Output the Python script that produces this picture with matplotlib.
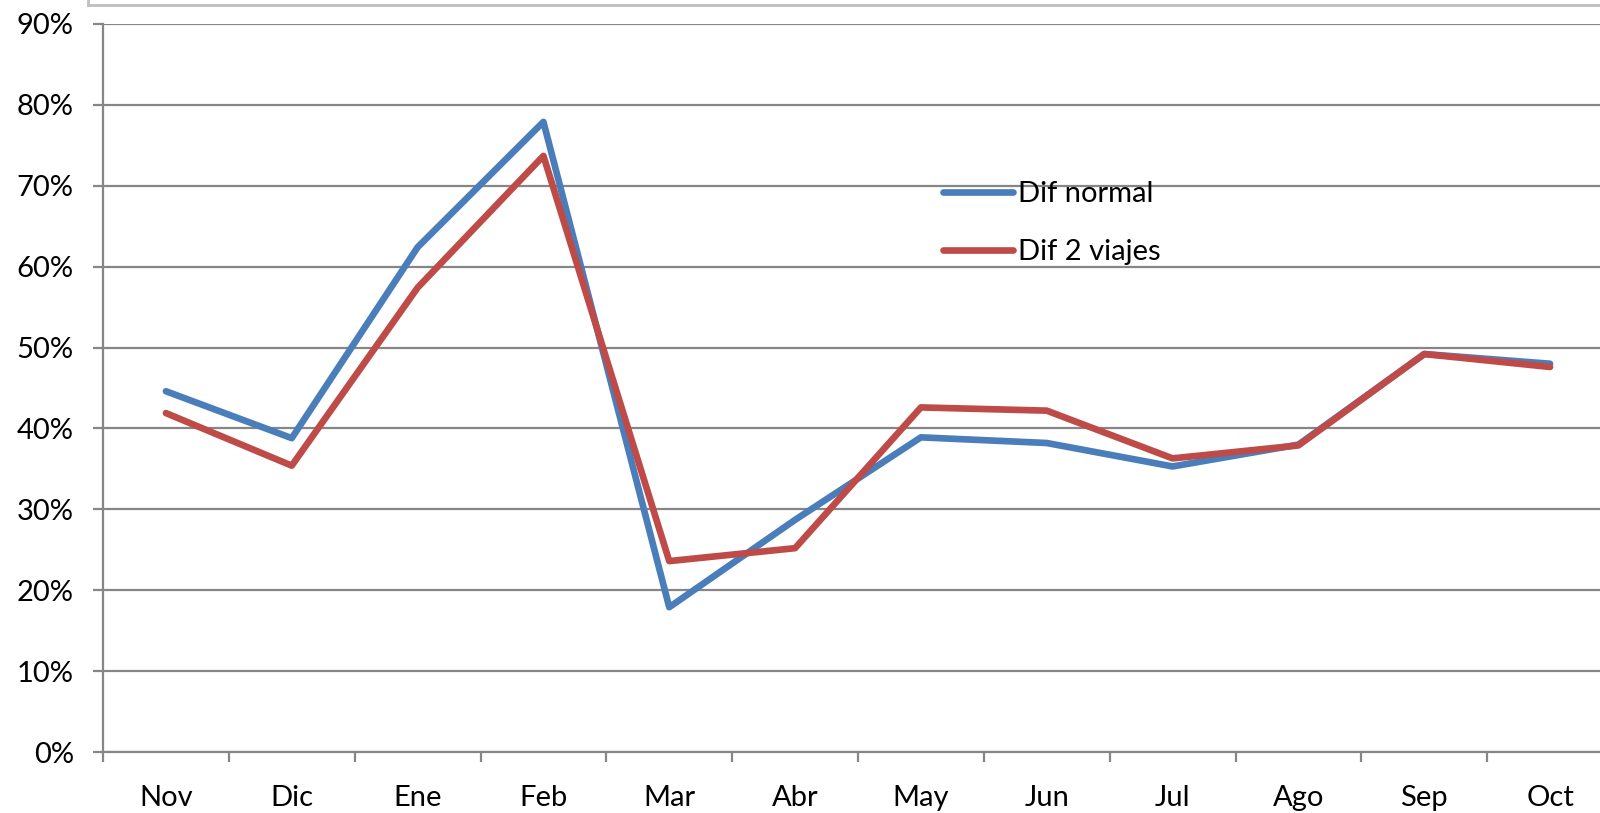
import matplotlib.pyplot as plt
import numpy as np
from matplotlib.lines import Line2D
from matplotlib.ticker import PercentFormatter, FixedLocator

plt.rcParams['font.family'] = ['Lato', 'DejaVu Sans']

months = ['Nov', 'Dic', 'Ene', 'Feb', 'Mar', 'Abr', 'May', 'Jun', 'Jul', 'Ago', 'Sep', 'Oct']
dif_normal = [44.6, 38.8, 62.4, 77.9, 17.9, 28.7, 38.9, 38.2, 35.3, 38.0, 49.2, 48.0]
dif_2_viajes = [41.9, 35.4, 57.4, 73.7, 23.6, 25.2, 42.6, 42.2, 36.3, 37.9, 49.2, 47.6]

grid_grey = '#868686'

fig = plt.figure(figsize=[16, 8.13], dpi=100)
# plot area runs a little past the right edge, like the cropped original
ax = fig.add_axes([103 / 1600, 61 / 813, 1510 / 1600, 728 / 813])

x = np.arange(len(months))
ax.plot(x, dif_normal, color='#4A7EBB', lw=4.8, label='Dif normal', solid_capstyle='round', zorder=3)
ax.plot(x, dif_2_viajes, color='#BE4B48', lw=4.8, label='Dif 2 viajes', solid_capstyle='round', zorder=4)

ax.set_xlim(-0.5, len(months) - 0.5)
ax.set_ylim(0, 90)
ax.set_yticks(np.arange(0, 91, 10))
ax.yaxis.set_major_formatter(PercentFormatter(decimals=0))
ax.yaxis.grid(True, color=grid_grey, lw=1.6)
ax.set_axisbelow(True)

# category boundaries get the tick marks, labels sit in between
ax.xaxis.set_major_locator(FixedLocator(np.arange(-0.5, len(months), 1)))
ax.xaxis.set_minor_locator(FixedLocator(x))
ax.set_xticklabels([], minor=False)
ax.set_xticklabels(months, minor=True)
ax.tick_params(axis='x', which='major', length=7, width=1.6, color=grid_grey)
ax.tick_params(axis='x', which='minor', length=0, pad=24, labelsize=21)
ax.tick_params(axis='y', length=7, width=1.6, color=grid_grey, pad=14, labelsize=21)

for side in ['top', 'right']:
    ax.spines[side].set_visible(False)
for side in ['left', 'bottom']:
    ax.spines[side].set_color(grid_grey)
    ax.spines[side].set_linewidth(1.6)

ax.legend(loc='upper left', bbox_to_anchor=(917 / 1600, 1 - 155 / 813), bbox_transform=fig.transFigure,
          frameon=False, fontsize=21, handlelength=2.4, handletextpad=0.15, labelspacing=1.1)

# edge of the outer chart box
fig.add_artist(Line2D([88 / 1600, 1], [1 - 5 / 813, 1 - 5 / 813], color='#bfbfbf', lw=2))
fig.add_artist(Line2D([88 / 1600, 88 / 1600], [1 - 5 / 813, 1], color='#bfbfbf', lw=2))

plt.savefig('out.png', dpi=100)
